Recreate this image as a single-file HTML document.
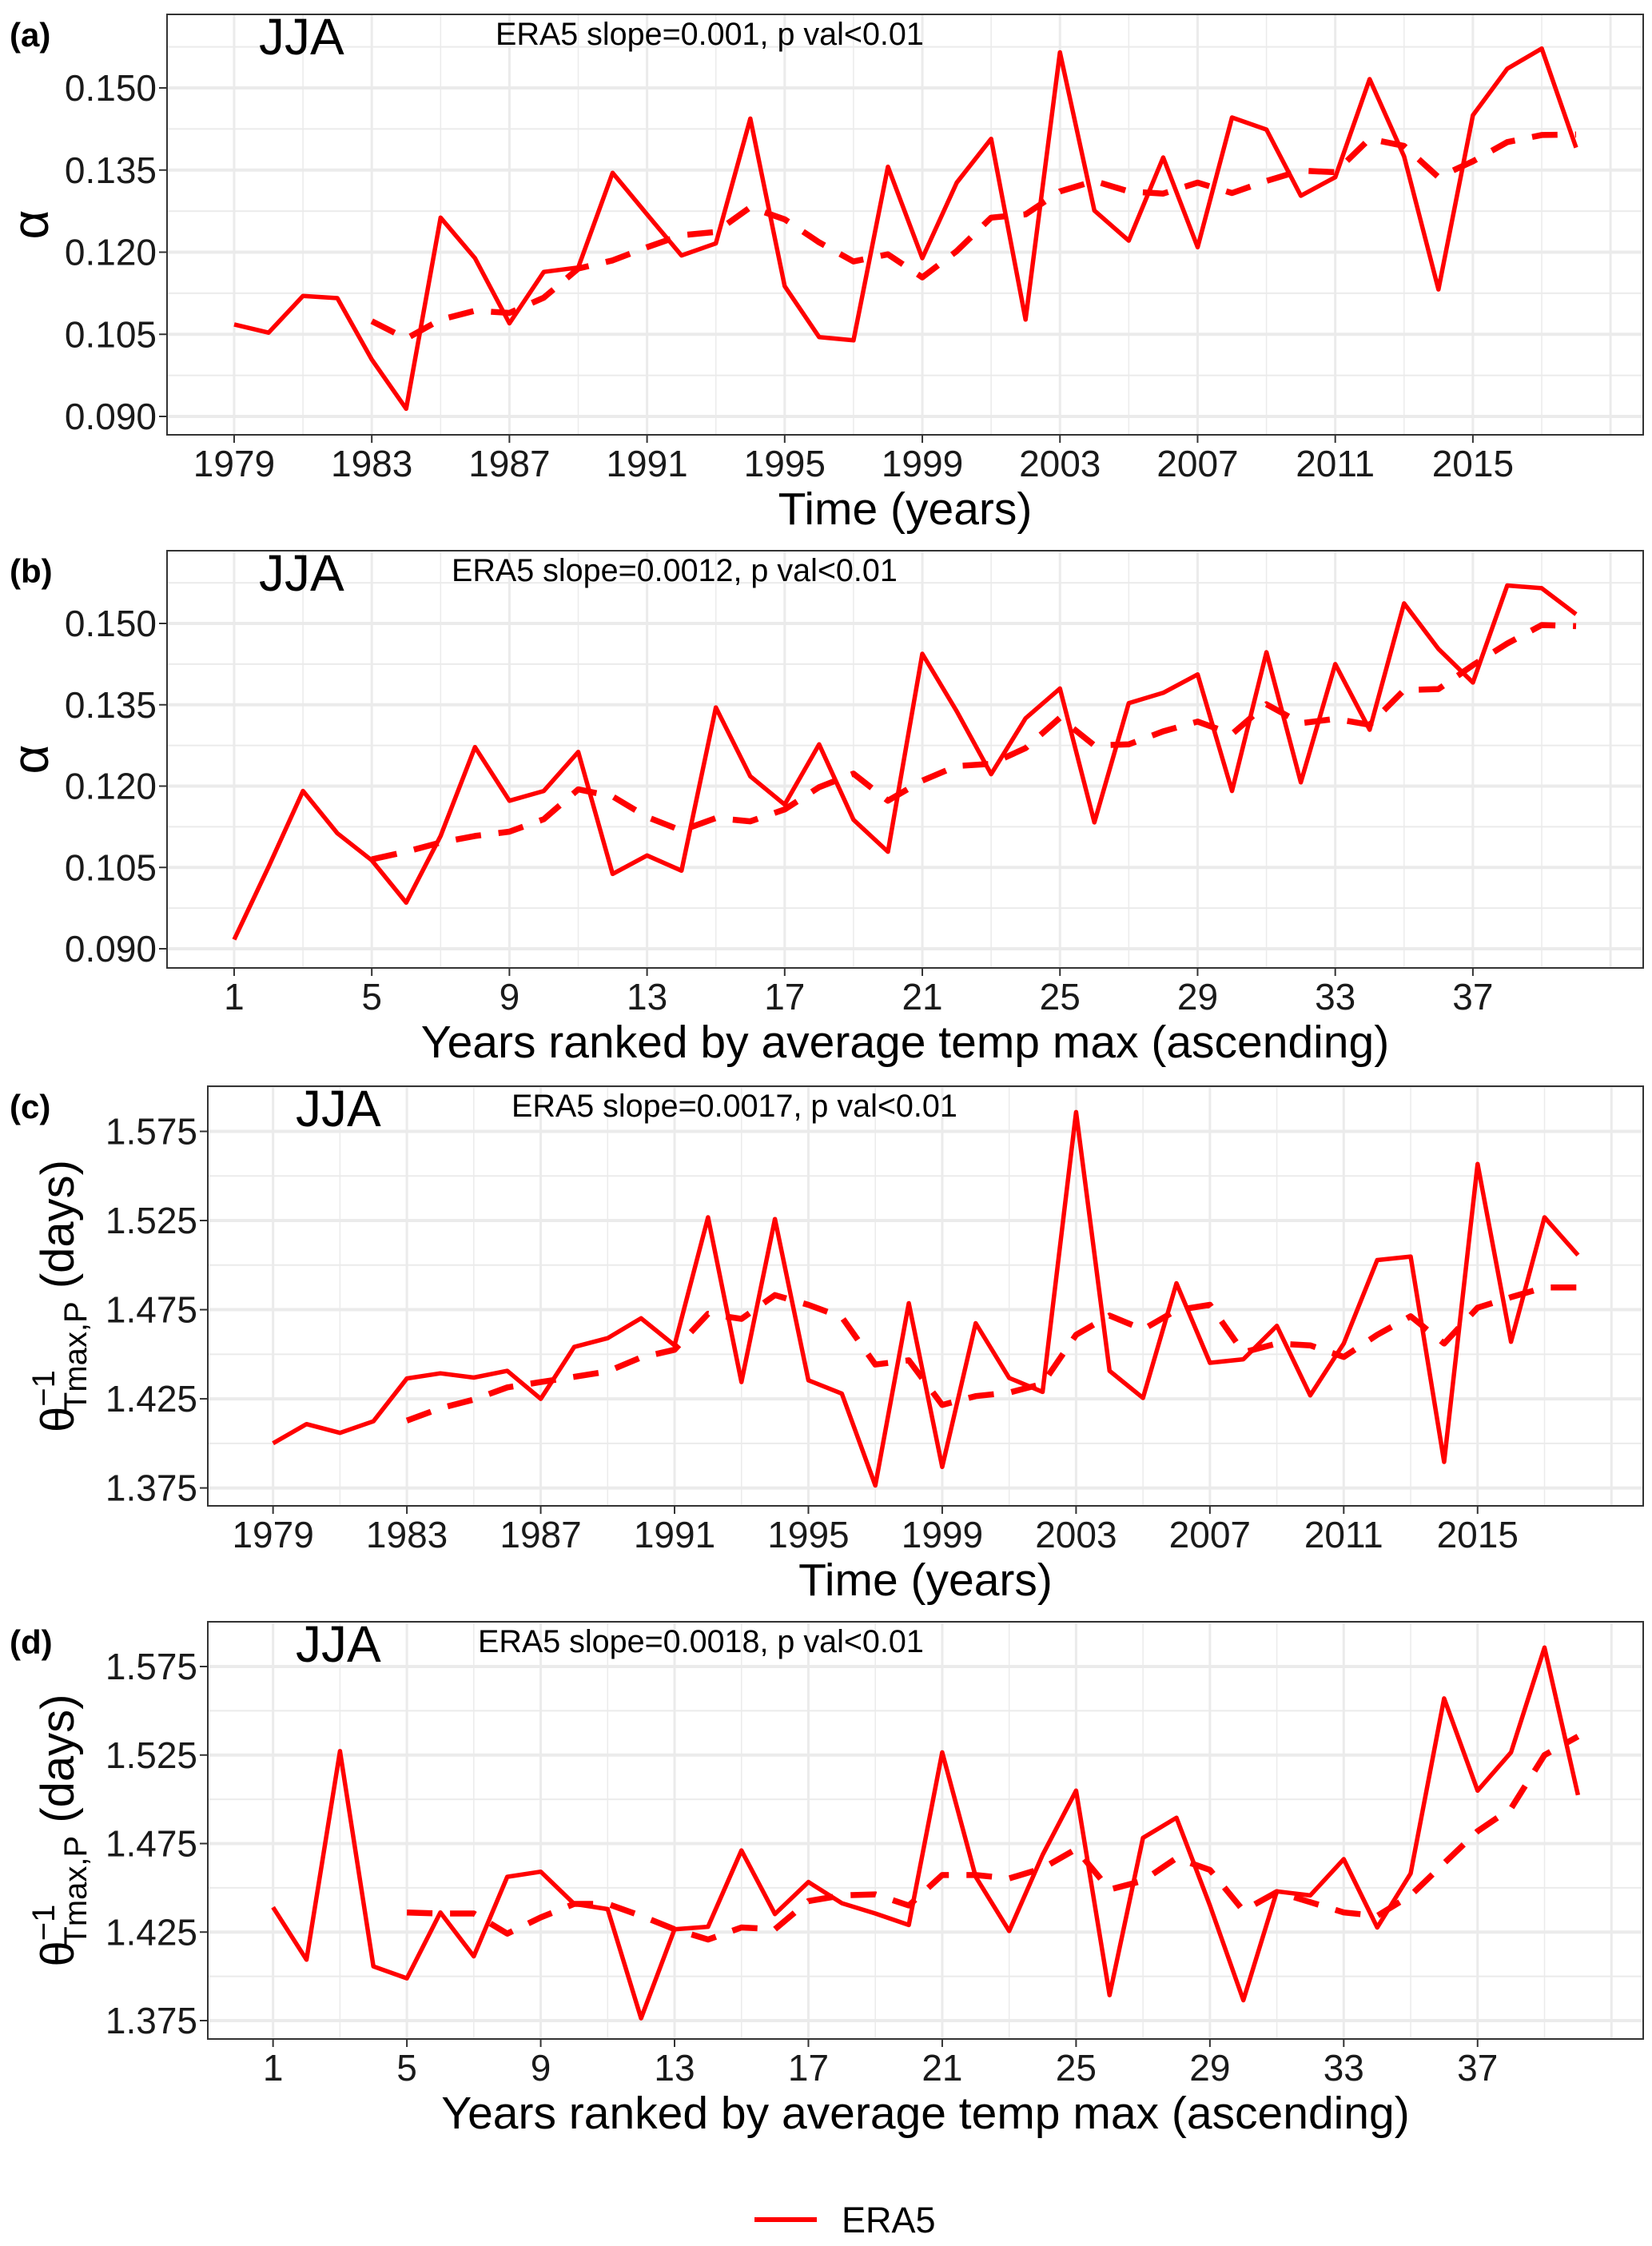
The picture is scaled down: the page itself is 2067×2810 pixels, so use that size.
<!DOCTYPE html>
<html><head><meta charset="utf-8">
<style>
html,body{margin:0;padding:0;background:#fff;}
svg{display:block;font-family:"Liberation Sans",Arial,sans-serif;}
</style></head>
<body>
<svg id="fig" width="2067" height="2810" viewBox="0 0 2067 2810" xmlns="http://www.w3.org/2000/svg"></svg>
<script>
// ---------- data ----------
const years = [];
for (let y = 1979; y <= 2018; y++) years.push(y);
const ranks = [];
for (let r = 1; r <= 40; r++) ranks.push(r);

const yearTicks = [1979,1983,1987,1991,1995,1999,2003,2007,2011,2015];
const rankTicks = [1,5,9,13,17,21,25,29,33,37];
const alphaTicks = [0.090,0.105,0.120,0.135,0.150];
const alphaTickLabels = ["0.090","0.105","0.120","0.135","0.150"];
const thetaTicks = [1.375,1.425,1.475,1.525,1.575];
const thetaTickLabels = ["1.375","1.425","1.475","1.525","1.575"];

const alphaYear = [0.1068,0.1053,0.1120,0.1116,0.1004,0.0914,0.1263,0.1189,0.1070,0.1164,
  0.1172,0.1345,0.1269,0.1194,0.1216,0.1444,0.1138,0.1045,0.1039,0.1356,
  0.1189,0.1327,0.1407,0.1077,0.1565,0.1276,0.1221,0.1373,0.1209,0.1446,
  0.1424,0.1303,0.1337,0.1516,0.1375,0.1132,0.1450,0.1535,0.1572,0.1391];
const alphaYearSmooth = [null,null,null,null,0.1074,0.1042,0.1077,0.1093,0.1089,0.1117,
  0.1170,0.1185,0.1209,0.1231,0.1237,0.1282,0.1260,0.1218,0.1183,0.1196,
  0.1154,0.1202,0.1263,0.1269,0.1311,0.1330,0.1311,0.1307,0.1327,0.1308,
  0.1330,0.1349,0.1346,0.1407,0.1394,0.1337,0.1366,0.1401,0.1414,0.1415];

const alphaRank = [0.0917,0.1051,0.1191,0.1113,0.1063,0.0985,0.1108,0.1272,0.1173,0.1191,
  0.1263,0.1038,0.1072,0.1044,0.1345,0.1218,0.1166,0.1277,0.1138,0.1079,
  0.1444,0.1338,0.1222,0.1325,0.1380,0.1133,0.1353,0.1372,0.1406,0.1191,
  0.1447,0.1207,0.1425,0.1304,0.1537,0.1453,0.1391,0.1570,0.1565,0.1517];
const alphaRankSmooth = [null,null,null,null,0.1065,0.1079,0.1096,0.1108,0.1116,0.1139,
  0.1194,0.1181,0.1143,0.1118,0.1141,0.1135,0.1157,0.1198,0.1223,0.1173,
  0.1210,0.1237,0.1241,0.1270,0.1326,0.1275,0.1277,0.1301,0.1319,0.1296,
  0.1351,0.1316,0.1324,0.1313,0.1377,0.1379,0.1423,0.1463,0.1497,0.1495];

const thetaYear = [1.400,1.4108,1.4059,1.4124,1.4364,1.4393,1.4369,1.4407,1.4250,1.4541,
  1.4590,1.4702,1.4550,1.5268,1.4344,1.5258,1.4354,1.4279,1.3764,1.4786,
  1.3868,1.4674,1.4367,1.4289,1.5858,1.4407,1.4255,1.4898,1.4452,1.4472,
  1.4659,1.4269,1.4560,1.5028,1.5048,1.3896,1.5567,1.4570,1.5268,1.5056];
const thetaYearSmooth = [null,null,null,null,1.4128,1.4197,1.4246,1.4314,1.4344,1.4373,
  1.4403,1.4482,1.4525,1.4727,1.4698,1.4832,1.4777,1.4708,1.4442,1.4466,
  1.4216,1.4265,1.4285,1.4334,1.4609,1.4717,1.4639,1.4747,1.4777,1.4511,
  1.4560,1.4550,1.4485,1.4609,1.4713,1.4560,1.4761,1.4820,1.4875,1.4875];

const thetaRank = [1.4390,1.4094,1.5272,1.4056,1.3989,1.4361,1.4113,1.4562,1.4591,1.4409,
  1.4380,1.3763,1.4266,1.4280,1.4711,1.4352,1.4533,1.4413,1.4355,1.4290,
  1.5265,1.4562,1.4256,1.4686,1.5049,1.3894,1.4782,1.4896,1.4400,1.3865,
  1.4480,1.4457,1.4662,1.4276,1.4581,1.5570,1.5049,1.5265,1.5857,1.5024];
const thetaRankSmooth = [null,null,null,null,1.4361,1.4355,1.4355,1.4241,1.4333,1.4409,
  1.4409,1.4342,1.4266,1.4208,1.4276,1.4266,1.4425,1.4457,1.4463,1.4400,
  1.4572,1.4572,1.4553,1.4610,1.4719,1.4490,1.4540,1.4668,1.4601,1.4371,
  1.4476,1.4419,1.4361,1.4342,1.4457,1.4639,1.4820,1.4948,1.5250,1.5355];

// ---------- drawing ----------
const NS = "http://www.w3.org/2000/svg";
const svg = document.getElementById("fig");
function mk(tag, parent) { const e = document.createElementNS(NS, tag); parent.appendChild(e); return e; }

function drawPanel(p) {
  const g = mk("g", svg);
  
  
  const L = p.left, R = p.right, T = p.top, B = p.bottom;
  const x0 = p.xs[0], x1 = p.xs[p.xs.length - 1];
  const ex = (x1 - x0) * 0.05;
  const xScale = v => L + (v - (x0 - ex)) / ((x1 + ex) - (x0 - ex)) * (R - L);
  const t0 = p.yTicks[0], tN = p.yTicks[p.yTicks.length - 1];
  const yScale = v => p.yLo + (v - t0) / (tN - t0) * (p.yHi - p.yLo);
  const bg = mk("rect", g);
  
  
  bg.setAttribute("x", L); bg.setAttribute("y", T); bg.setAttribute("width", R - L); bg.setAttribute("height", B - T); bg.setAttribute("fill", "#fff");
  const step = p.yTicks[1] - p.yTicks[0];
  for (let v = t0 - step * 1.5; v <= tN + step * 1.5; v += step / 2) {
    const y = yScale(v);
    if (y < T || y > B) continue;
    const major = Math.abs(((v - t0) / step) - Math.round((v - t0) / step)) < 0.01;
    const ln = mk("line", g);
    
    
    ln.setAttribute("x1", L); ln.setAttribute("x2", R); ln.setAttribute("y1", y); ln.setAttribute("y2", y);
    ln.setAttribute("stroke", "#ebebeb"); ln.setAttribute("stroke-width", major ? 4 : 2);
  }
  const xstep = p.xTicks[1] - p.xTicks[0];
  for (let v = p.xTicks[0] - xstep; v <= x1 + xstep; v += xstep / 2) {
    const x = xScale(v);
    if (x < L || x > R) continue;
    const major = Math.abs(((v - p.xTicks[0]) / xstep) - Math.round((v - p.xTicks[0]) / xstep)) < 0.01;
    const ln = mk("line", g);
    
    
    ln.setAttribute("x1", x); ln.setAttribute("x2", x); ln.setAttribute("y1", T); ln.setAttribute("y2", B);
    ln.setAttribute("stroke", "#ebebeb"); ln.setAttribute("stroke-width", major ? 3 : 1.5);
  }
  function series(vals, name, dashed) {
    let d = "";
    vals.forEach((v, i) => { if (v === null) return; d += (d ? "L" : "M") + xScale(p.xs[i]).toFixed(1) + "," + yScale(v).toFixed(1); });
    const path = mk("path", g);
    
    
    path.setAttribute("d", d); path.setAttribute("fill", "none"); path.setAttribute("stroke", "#ff0000");
    path.setAttribute("stroke-width", dashed ? 7.5 : 5.5); path.setAttribute("stroke-linejoin", "round");
    if (dashed) path.setAttribute("stroke-dasharray", "32 22");
  }
  series(p.smooth, p.name + "-smoothed-line", true);
  series(p.vals, p.name + "-era5-line", false);
  const br = mk("rect", g);
  
  
  br.setAttribute("x", L); br.setAttribute("y", T); br.setAttribute("width", R - L); br.setAttribute("height", B - T);
  br.setAttribute("fill", "none"); br.setAttribute("stroke", "#333"); br.setAttribute("stroke-width", 2);
  p.yTicks.forEach((v, i) => {
    const y = yScale(v);
    const tk = mk("line", g);
    
    
    tk.setAttribute("x1", L - 10); tk.setAttribute("x2", L); tk.setAttribute("y1", y); tk.setAttribute("y2", y);
    tk.setAttribute("stroke", "#333"); tk.setAttribute("stroke-width", 2);
    const tx = mk("text", g);
    
    
    tx.setAttribute("x", L - 13); tx.setAttribute("y", y + 16); tx.setAttribute("text-anchor", "end");
    tx.setAttribute("font-size", 46); tx.setAttribute("fill", "#1a1a1a");
    tx.textContent = p.yTickLabels[i];
  });
  p.xTicks.forEach(v => {
    const x = xScale(v);
    const tk = mk("line", g);
    
    
    tk.setAttribute("x1", x); tk.setAttribute("x2", x); tk.setAttribute("y1", B); tk.setAttribute("y2", B + 10);
    tk.setAttribute("stroke", "#333"); tk.setAttribute("stroke-width", 2);
    const tx = mk("text", g);
    
    
    tx.setAttribute("x", x); tx.setAttribute("y", B + 52); tx.setAttribute("text-anchor", "middle");
    tx.setAttribute("font-size", 46); tx.setAttribute("fill", "#1a1a1a");
    tx.textContent = String(v);
  });
  const xt = mk("text", g);
  
  
  xt.setAttribute("x", (L + R) / 2); xt.setAttribute("y", B + 112); xt.setAttribute("text-anchor", "middle");
  xt.setAttribute("font-size", 57);
  xt.textContent = p.xTitle;
  const pl = mk("text", g);
  
  
  pl.setAttribute("x", 12); pl.setAttribute("y", T + 40); pl.setAttribute("font-size", 42); pl.setAttribute("font-weight", "bold");
  pl.textContent = p.letter;
  const jj = mk("text", g);
  
  
  jj.setAttribute("x", p.jjaX); jj.setAttribute("y", T + 50); jj.setAttribute("font-size", 64);
  jj.textContent = "JJA";
  const st = mk("text", g);
  
  
  st.setAttribute("x", p.slopeX); st.setAttribute("y", T + 38); st.setAttribute("font-size", 39.5);
  st.textContent = p.slope;
  return {g, L, R, T, B, yScale};
}

function alphaTitle(panel) {
  const t = mk("text", panel.g);
  
  
  const cy = (panel.T + panel.B) / 2;
  t.setAttribute("transform", "translate(60," + cy + ") rotate(-90)");
  t.setAttribute("text-anchor", "middle"); t.setAttribute("font-size", 64);
  t.textContent = "α";
}
function thetaTitle(panel) {
  const t = mk("text", panel.g);
  
  
  const cy = (panel.T + panel.B) / 2;
  t.setAttribute("transform", "translate(92," + cy + ") rotate(-90)");
  t.setAttribute("text-anchor", "middle"); t.setAttribute("font-size", 58);
  t.innerHTML = 'θ<tspan font-size="40" dy="-24">−1</tspan><tspan font-size="40" dx="-52" dy="40">Tmax,P</tspan><tspan dy="-16"> (days)</tspan>';
}

const pa = drawPanel({name:"panel-a", letter:"(a)", left:209, right:2056, top:18, bottom:544,
  xs:years, xTicks:yearTicks, yTicks:alphaTicks, yTickLabels:alphaTickLabels, yLo:521, yHi:110,
  vals:alphaYear, smooth:alphaYearSmooth, xTitle:"Time (years)", jjaX:324, slopeX:620,
  slope:"ERA5 slope=0.001, p val<0.01"});
alphaTitle(pa);
const pb = drawPanel({name:"panel-b", letter:"(b)", left:209, right:2056, top:689, bottom:1211,
  xs:ranks, xTicks:rankTicks, yTicks:alphaTicks, yTickLabels:alphaTickLabels, yLo:1187, yHi:780,
  vals:alphaRank, smooth:alphaRankSmooth, xTitle:"Years ranked by average temp max (ascending)", jjaX:324, slopeX:565,
  slope:"ERA5 slope=0.0012, p val<0.01"});
alphaTitle(pb);
const pc = drawPanel({name:"panel-c", letter:"(c)", left:260, right:2056, top:1359, bottom:1884,
  xs:years, xTicks:yearTicks, yTicks:thetaTicks, yTickLabels:thetaTickLabels, yLo:1861.6, yHi:1415.5,
  vals:thetaYear, smooth:thetaYearSmooth, xTitle:"Time (years)", jjaX:370, slopeX:640,
  slope:"ERA5 slope=0.0017, p val<0.01"});
thetaTitle(pc);
const pd = drawPanel({name:"panel-d", letter:"(d)", left:260, right:2056, top:2029, bottom:2551,
  xs:ranks, xTicks:rankTicks, yTicks:thetaTicks, yTickLabels:thetaTickLabels, yLo:2528, yHi:2085,
  vals:thetaRank, smooth:thetaRankSmooth, xTitle:"Years ranked by average temp max (ascending)", jjaX:370, slopeX:598,
  slope:"ERA5 slope=0.0018, p val<0.01"});
thetaTitle(pd);

const lg = mk("g", svg);


const ll = mk("line", lg);


ll.setAttribute("x1", 944); ll.setAttribute("x2", 1022); ll.setAttribute("y1", 2777); ll.setAttribute("y2", 2777);
ll.setAttribute("stroke", "#ff0000"); ll.setAttribute("stroke-width", 6);
const lt = mk("text", lg);


lt.setAttribute("x", 1053); lt.setAttribute("y", 2793); lt.setAttribute("font-size", 45);
lt.textContent = "ERA5";
</script>
</body></html>
